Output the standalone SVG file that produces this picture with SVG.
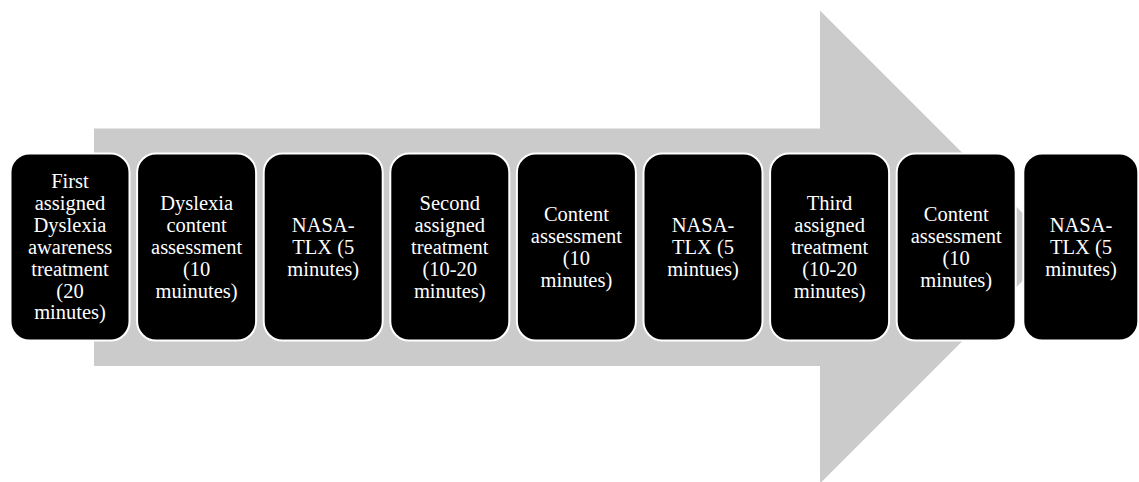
<svg xmlns="http://www.w3.org/2000/svg" width="1139" height="482" viewBox="0 0 1139 482">
<style>
.box{fill:#000;stroke:#fff;stroke-width:2}
.t{fill:#fff;font-size:20.5px;text-anchor:middle}
</style>
<rect width="1139" height="482" fill="#fff"/>
<g id="arrow">
<polygon points="94,128.5 820,128.5 820,10.5 1056.5,247 820,483.5 820,366 94,366" fill="#cbcbcb"/>
</g>
<g id="connectors"></g>
<g font-family="'Liberation Serif', 'DejaVu Serif', serif">
<g id="n1"><rect class="box" x="10.5" y="153.5" width="119" height="187" rx="19"/>
<text class="t"><tspan x="70" y="188">First</tspan><tspan x="70" y="209.9">assigned</tspan><tspan x="70" y="231.8">Dyslexia</tspan><tspan x="70" y="253.7">awareness</tspan><tspan x="70" y="275.6">treatment</tspan><tspan x="70" y="297.5">(20</tspan><tspan x="70" y="319.4">minutes)</tspan></text></g>
<g id="n2"><rect class="box" x="137.1" y="153.5" width="119" height="187" rx="19"/>
<text class="t"><tspan x="196.6" y="209.9">Dyslexia</tspan><tspan x="196.6" y="231.8">content</tspan><tspan x="196.6" y="253.7">assessment</tspan><tspan x="196.6" y="275.6">(10</tspan><tspan x="196.6" y="297.5">muinutes)</tspan></text></g>
<g id="n3"><rect class="box" x="263.7" y="153.5" width="119" height="187" rx="19"/>
<text class="t"><tspan x="323.2" y="231.8">NASA-</tspan><tspan x="323.2" y="253.7">TLX (5</tspan><tspan x="323.2" y="275.6">minutes)</tspan></text></g>
<g id="n4"><rect class="box" x="390.3" y="153.5" width="119" height="187" rx="19"/>
<text class="t"><tspan x="449.8" y="209.9">Second</tspan><tspan x="449.8" y="231.8">assigned</tspan><tspan x="449.8" y="253.7">treatment</tspan><tspan x="449.8" y="275.6">(10-20</tspan><tspan x="449.8" y="297.5">minutes)</tspan></text></g>
<g id="n5"><rect class="box" x="516.9" y="153.5" width="119" height="187" rx="19"/>
<text class="t"><tspan x="576.4" y="220.8">Content</tspan><tspan x="576.4" y="242.7">assessment</tspan><tspan x="576.4" y="264.6">(10</tspan><tspan x="576.4" y="286.5">minutes)</tspan></text></g>
<g id="n6"><rect class="box" x="643.5" y="153.5" width="119" height="187" rx="19"/>
<text class="t"><tspan x="703" y="231.8">NASA-</tspan><tspan x="703" y="253.7">TLX (5</tspan><tspan x="703" y="275.6">mintues)</tspan></text></g>
<g id="n7"><rect class="box" x="770.1" y="153.5" width="119" height="187" rx="19"/>
<text class="t"><tspan x="829.6" y="209.9">Third</tspan><tspan x="829.6" y="231.8">assigned</tspan><tspan x="829.6" y="253.7">treatment</tspan><tspan x="829.6" y="275.6">(10-20</tspan><tspan x="829.6" y="297.5">minutes)</tspan></text></g>
<g id="n8"><rect class="box" x="896.7" y="153.5" width="119" height="187" rx="19"/>
<text class="t"><tspan x="956.2" y="220.8">Content</tspan><tspan x="956.2" y="242.7">assessment</tspan><tspan x="956.2" y="264.6">(10</tspan><tspan x="956.2" y="286.5">minutes)</tspan></text></g>
<g id="n9"><rect class="box" x="1023.3" y="153.5" width="115" height="187" rx="19"/>
<text class="t"><tspan x="1081" y="231.8">NASA-</tspan><tspan x="1081" y="253.7">TLX (5</tspan><tspan x="1081" y="275.6">minutes)</tspan></text></g>
</g>
</svg>
